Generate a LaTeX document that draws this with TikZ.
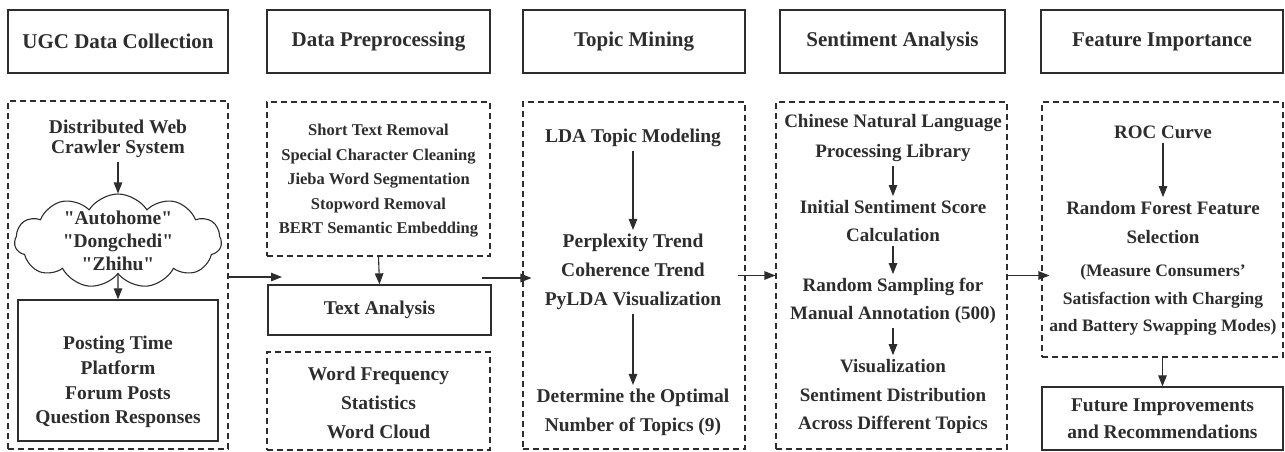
\documentclass[tikz,border=0pt]{standalone}
\usepackage{fontspec}
\setmainfont{Liberation Serif}
\newfontfamily\plainquotes{Liberation Serif}[Ligatures=TeXOff]
\usetikzlibrary{arrows.meta,positioning,shapes.symbols}
\definecolor{ink}{RGB}{45,45,45}
\tikzset{
  hdrbox/.style={draw=ink,line width=1.4pt,text=ink,minimum height=63pt,inner sep=0pt,
                 font=\fontsize{21}{25}\selectfont\bfseries},
  dbox/.style={draw=ink,line width=1.1pt,dash pattern=on 6pt off 4pt,inner sep=0pt},
  sbox/.style={draw=ink,line width=1.3pt,inner sep=0pt},
  btxt/.style={align=center,text=ink,inner sep=4pt,font=\fontsize{19.5}{29}\selectfont\bfseries},
  farrow/.style={-{Triangle[length=11pt,width=8.5pt]},draw=ink,line width=1.1pt},
}

\begin{document}
\begin{tikzpicture}[x=1pt,y=-1pt]
\useasboundingbox (0,0) rectangle (1285,451);

% ============ stage headers ============
\node[hdrbox,minimum width=220pt] (h1) at (118,41.5) {UGC Data Collection};
\node[hdrbox,minimum width=223pt] (h2) at (378.5,41.5) {Data Preprocessing};
\node[hdrbox,minimum width=222pt] (h3) at (634,41.5) {Topic Mining};
\node[hdrbox,minimum width=225pt] (h4) at (892.5,41.5) {Sentiment Analysis};
\node[hdrbox,minimum width=242pt] (h5) at (1162,41.5) {Feature Importance};

% ============ column 1: collection ============
\node[dbox,minimum width=220pt,minimum height=348pt] (c1) at (118,275) {};
\node[btxt,font=\fontsize{19.5}{20.5}\selectfont\bfseries] (crawl) at (118,139)
  {Distributed Web\\Crawler System};
\node[cloud,cloud puffs=11,cloud puff arc=115,aspect=2.3,draw=ink,line width=1.1pt,
      minimum width=207pt,minimum height=94pt,inner xsep=-4pt,inner ysep=-10pt,
      align=center,text=ink,font=\plainquotes\fontsize{19.5}{23}\selectfont\bfseries] (plat) at (118,241)
  {"Autohome"\\"Dongchedi"\\"Zhihu"};
\node[sbox,minimum width=200pt,minimum height=141pt] (pbox) at (118,370.5) {};
\node[btxt,font=\fontsize{19.5}{24.7}\selectfont\bfseries] (pinfo) at (118,382)
  {Posting Time\\Platform\\Forum Posts\\Question Responses};
\draw[farrow] (crawl.south) -- (plat.north);
\draw[farrow] (plat.south) -- (pbox.north);

% ============ column 2: preprocessing ============
\node[dbox,minimum width=223pt,minimum height=154pt] (c2a) at (378.5,179) {};
\node[btxt,font=\fontsize{16.5}{24.5}\selectfont\bfseries] (clean) at (378.5,181)
  {Short Text Removal\\Special Character Cleaning\\Jieba Word Segmentation\\Stopword Removal\\BERT Semantic Embedding};
\node[sbox,btxt,inner sep=0pt,minimum width=223pt,minimum height=50pt] (ta) at (379.5,310) {Text Analysis};
\draw[farrow] (c2a.south) -- (ta.north);
\node[dbox,minimum width=223pt,minimum height=98pt] (c2b) at (378.5,401) {};
\node[btxt] (wf) at (378.5,403) {Word Frequency\\Statistics\\Word Cloud};

% ============ column 3: topics ============
\node[dbox,minimum width=222pt,minimum height=347pt] (c3) at (634,275.5) {};
\node[btxt] (lda) at (633,138) {LDA Topic Modeling};
\node[btxt] (trend) at (633,272) {Perplexity Trend\\Coherence Trend\\PyLDA Visualization};
\node[btxt] (topn) at (633,412.5) {Determine the Optimal\\Number of Topics (9)};
\draw[farrow] (lda) -- (trend);
\draw[farrow] (trend) -- (topn);

% ============ column 4: sentiment ============
\node[dbox,minimum width=231pt,minimum height=347pt] (c4) at (891.5,275.5) {};
\node[btxt,font=\fontsize{19}{30}\selectfont\bfseries] (nlp) at (893,138)
  {Chinese Natural Language\\Processing Library};
\node[btxt,font=\fontsize{19}{28}\selectfont\bfseries] (init) at (893,221)
  {Initial Sentiment Score\\Calculation};
\node[btxt,font=\fontsize{19}{28}\selectfont\bfseries] (samp) at (893,301)
  {Random Sampling for\\Manual Annotation (500)};
\node[btxt,font=\fontsize{19}{28.5}\selectfont\bfseries] (vis) at (893,396.5)
  {Visualization\\Sentiment Distribution\\Across Different Topics};
\draw[farrow] (nlp) -- (init);
\draw[farrow] (init) -- (samp);
\draw[farrow] (samp) -- (vis);

% ============ column 5: importance ============
\node[dbox,minimum width=241pt,minimum height=255pt] (c5) at (1162.5,229.5) {};
\node[btxt,font=\fontsize{19}{29}\selectfont\bfseries] (roc) at (1163,132) {ROC Curve};
\node[btxt,font=\fontsize{19}{29}\selectfont\bfseries] (rf) at (1163,222.5) {Random Forest Feature\\Selection};
\node[btxt,font=\fontsize{17.5}{27.5}\selectfont\bfseries] (meas) at (1163,300)
  {(Measure Consumers'\\Satisfaction with Charging\\and Battery Swapping Modes)};
\draw[farrow] (roc) -- (rf);
\node[sbox,btxt,inner sep=0pt,font=\fontsize{19.5}{27}\selectfont\bfseries,
      minimum width=241pt,minimum height=63pt] (fut) at (1162.5,418.5)
  {Future Improvements\\and Recommendations};
\draw[farrow] (c5.south) -- (fut.north);

% ============ stage to stage ============
\coordinate (e12) at (282,277);
\coordinate (s23) at (482,278);
\draw[farrow] (c1.east |- e12) -- (e12);
\draw[farrow] (s23) -- ([xshift=9pt]c3.west |- s23);
\draw[farrow] ([xshift=-8pt]c3.east) -- (c4.west);
\draw[farrow] (c4.east) -- ([xshift=8pt]c5.west |- c4.east);
\end{tikzpicture}
\end{document}
